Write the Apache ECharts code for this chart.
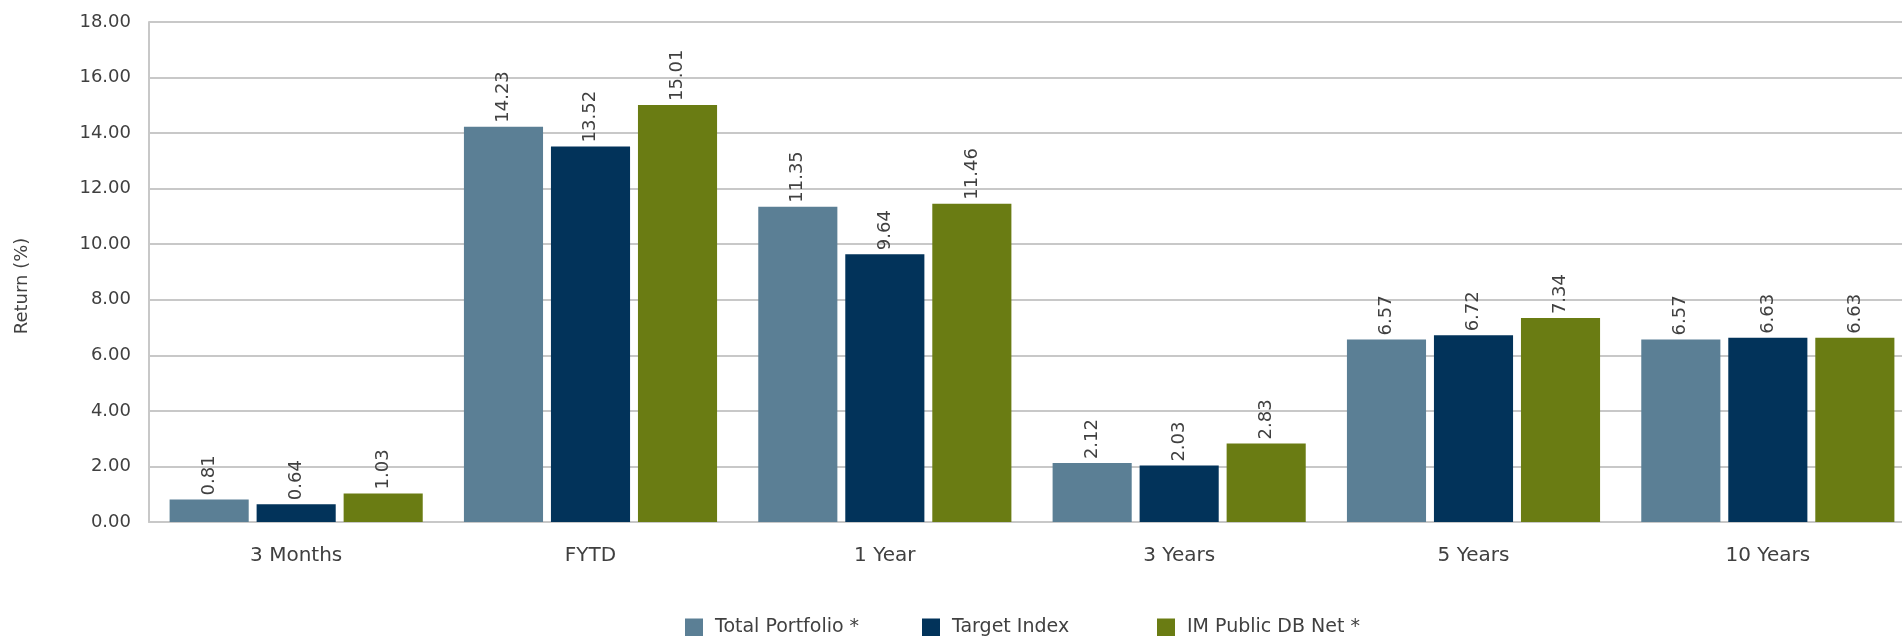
<!DOCTYPE html>
<html>
<head>
<meta charset="utf-8">
<script src="https://cdn.jsdelivr.net/npm/echarts@6/dist/echarts.min.js"></script>
<style>
  html, body { margin: 0; padding: 0; background: #fff; }
  #container { width: 1902px; height: 636px; }
</style>
</head>
<body>
<div id="container"></div>
<script>
let categories = ['3 Months', 'FYTD', '1 Year', '3 Years', '5 Years', '10 Years'];
let totalPortfolio = [0.81, 14.23, 11.35, 2.12, 6.57, 6.57];
let targetIndex = [0.64, 13.52, 9.64, 2.03, 6.72, 6.63];
let imPublicDB = [1.03, 15.01, 11.46, 2.83, 7.34, 6.63];
let seriesNames = ['Total Portfolio *', 'Target Index', 'IM Public DB Net *'];
let colors = ['#5B7F95', '#02335A', '#6A7C13'];
let yTicks = [0, 2, 4, 6, 8, 10, 12, 14, 16, 18];

let font = '"DejaVu Sans", sans-serif';
let textColor = '#404040';
let gridColor = '#C8C8C8';

let dom = document.getElementById('container');
let chart = echarts.init(dom);

function barSeries(name, values, color) {
    return {
        name: name,
        type: 'bar',
        data: values,
        barGap: '10%',
        barCategoryGap: '14%',
        itemStyle: { color: color },
        label: {
            show: true,
            position: 'top',
            rotate: 90,
            align: 'left',
            verticalAlign: 'middle',
            distance: 4,
            color: textColor,
            fontFamily: font,
            fontSize: 18,
            formatter: (p) => p.value.toFixed(2)
        }
    };
}

// one legend per entry so each sits where the original put it
let legendLefts = [685, 922, 1157];
let legends = seriesNames.map((n, i) => ({
    data: [n],
    left: legendLefts[i],
    top: 618,
    padding: 0,
    itemWidth: 18,
    itemHeight: 18,
    icon: 'rect',
    textStyle: { color: textColor, fontSize: 19, fontFamily: font, padding: [0, 0, 0, 7] }
}));

chart.setOption({
    animation: false,
    textStyle: { fontFamily: font },
    grid: { left: 149, right: -13, top: 22, bottom: 114, outerBoundsMode: 'none' },
    legend: legends,
    xAxis: {
        type: 'category',
        data: categories,
        axisLine: { lineStyle: { color: gridColor, width: 2 } },
        axisTick: { show: false },
        axisLabel: { color: textColor, fontSize: 20, margin: 24, fontFamily: font }
    },
    yAxis: {
        type: 'value',
        min: yTicks[0],
        max: yTicks[yTicks.length - 1],
        interval: yTicks[1] - yTicks[0],
        name: 'Return (%)',
        nameLocation: 'middle',
        nameRotate: 90,
        nameGap: 118,
        nameTextStyle: { color: textColor, fontSize: 18, fontFamily: font, padding: [0, 28, 0, 0] },
        axisLine: { show: true, lineStyle: { color: gridColor, width: 2 } },
        axisTick: { show: false },
        splitLine: { lineStyle: { color: gridColor, width: 2 } },
        axisLabel: {
            color: textColor,
            fontSize: 18,
            margin: 18,
            fontFamily: font,
            formatter: (v) => v.toFixed(2)
        }
    },
    series: [
        barSeries(seriesNames[0], totalPortfolio, colors[0]),
        barSeries(seriesNames[1], targetIndex, colors[1]),
        barSeries(seriesNames[2], imPublicDB, colors[2])
    ]
});
</script>
</body>
</html>
